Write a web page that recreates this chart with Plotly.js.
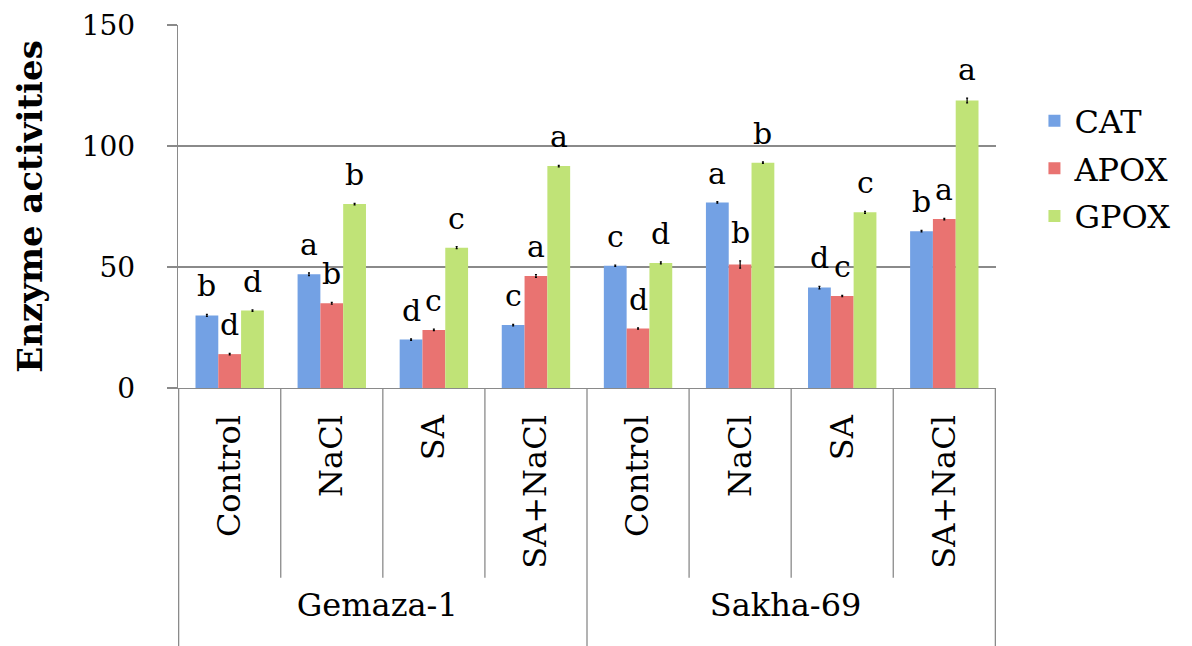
<!DOCTYPE html>
<html>
<head>
<meta charset="utf-8">
<script src="https://cdn.plot.ly/plotly-3.0.1.min.js"></script>
<style>html,body{margin:0;padding:0;background:#fff;}#chart{width:1192px;height:646px;}</style>
</head>
<body>
<div id="chart"></div>
<script>
// ---- data ----
const cultivars = ["Gemaza-1","Gemaza-1","Gemaza-1","Gemaza-1","Sakha-69","Sakha-69","Sakha-69","Sakha-69"];
const treatments = ["Control","NaCl","SA","SA+NaCl","Control","NaCl","SA","SA+NaCl"];

const CAT  = [30, 47, 20, 26, 50.5, 76.7, 41.5, 64.8];
const APOX = [14, 35, 24, 46.3, 24.6, 51, 38, 69.8];
const GPOX = [32, 76, 58, 91.7, 51.7, 93.1, 72.6, 118.8];

const CAT_err  = [0.4, 0.6, 0.3, 0.3, 0.3, 0.3, 0.5, 0.3];
const APOX_err = [0.3, 0.4, 0.3, 0.6, 0.3, 1.5, 0.3, 0.3];
const GPOX_err = [0.3, 0.3, 0.4, 0.3, 0.4, 0.3, 0.4, 1.0];

const CAT_sig  = ["b","a","d","c","c","a","d","b"];
const APOX_sig = ["d","b","c","a","d","b","c","a"];
const GPOX_sig = ["d","b","c","a","d","b","c","a"];

const seriesNames = ["CAT","APOX","GPOX"];
const seriesColors = ["#73a1e4","#e97371","#c0e377"];
// ---------------

const values = [CAT, APOX, GPOX];
const errs = [CAT_err, APOX_err, GPOX_err];
const sigs = [CAT_sig, APOX_sig, GPOX_sig];

const bargap = 0.33;
const FONT = "DejaVu Serif";
const GRID = "#8a8a8a";

const traces = values.map((v, j) => ({
  type: "bar",
  name: seriesNames[j],
  x: [cultivars, treatments],
  y: v,
  marker: {color: seriesColors[j], line: {width: 0}},
  error_y: {type: "data", array: errs[j], visible: true, color: "#000", thickness: 1.2, width: 1},
  legendgroup: seriesNames[j],
  hoverinfo: "skip"
}));

const bw = (1 - bargap) / 3;
const annotations = [];
values.forEach((v, j) => {
  v.forEach((val, i) => {
    annotations.push({
      xref: "x", yref: "y",
      x: i + (j - 1) * bw,
      y: val + errs[j][i],
      text: sigs[j][i],
      showarrow: false,
      xanchor: "center", yanchor: "bottom",
      yshift: 9,
      font: {family: FONT, size: 30, color: "#000"}
    });
  });
});

// category separators below the axis
const n = treatments.length;
const shapes = [];
for (let i = 0; i <= n; i++) {
  const b = i - 0.5;
  const isOuter = (i === 0 || i === n || cultivars[i] !== cultivars[i - 1]);
  shapes.push({type: "line", xref: "x", yref: "paper", x0: b, x1: b, y0: 0,
    y1: isOuter ? -0.72 : -0.523,
    line: {color: GRID, width: 1.3}});
}

const layout = {
  width: 1192, height: 646,
  margin: {l: 178, r: 196, t: 25, b: 258},
  paper_bgcolor: "#fff", plot_bgcolor: "#fff",
  font: {family: FONT, size: 28, color: "#000"},
  barmode: "group",
  bargap: bargap, bargroupgap: 0,
  showlegend: true,
  legend: {
    x: 1.047, xanchor: "left", y: 0.605, yanchor: "middle",
    font: {family: FONT, size: 32, color: "#000"},
    traceorder: "grouped", tracegroupgap: 3,
    bgcolor: "rgba(0,0,0,0)"
  },
  xaxis: {
    type: "multicategory",
    tickangle: -90,
    ticks: "",
    ticklabelstandoff: 13,
    showline: true, linecolor: GRID, linewidth: 1.3,
    showdividers: false,
    tickfont: {family: FONT, size: 32, color: "#000"},
    showgrid: false, zeroline: false
  },
  yaxis: {
    range: [0, 150],
    tickvals: [0, 50, 100, 150],
    ticktext: ["0", "50", "100", "150"],
    ticks: "outside", ticklen: 10, tickcolor: GRID, tickwidth: 1.3,
    ticklabelstandoff: 26,
    showline: true, linecolor: GRID, linewidth: 1.3,
    showgrid: true, gridcolor: GRID, gridwidth: 1.3,
    zeroline: false,
    tickfont: {family: FONT, size: 28, color: "#000"},
    title: {text: "<b>Enzyme activities</b>", font: {family: FONT, size: 34, color: "#000"}, standoff: 28}
  },
  annotations: annotations,
  shapes: shapes
};

Plotly.newPlot("chart", traces, layout, {displayModeBar: false, staticPlot: true});
</script>
</body>
</html>
